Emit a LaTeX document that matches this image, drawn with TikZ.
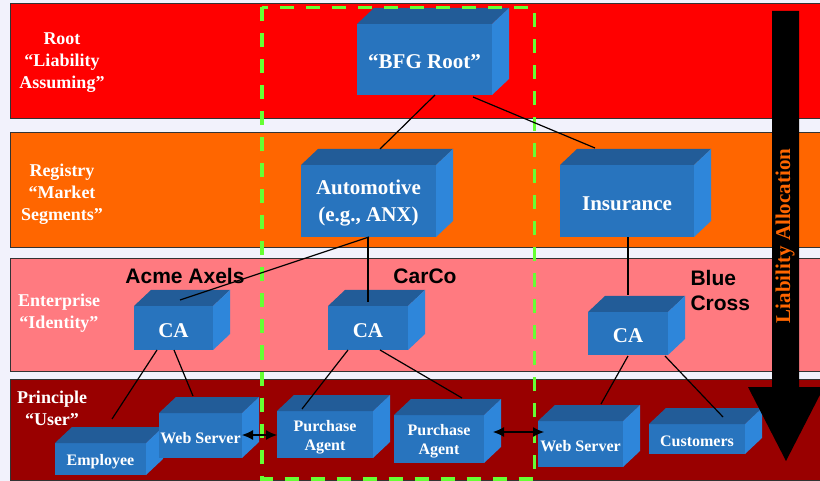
\documentclass[tikz,border=0pt]{standalone}
\usepackage{fontspec}
\setmainfont{Liberation Serif}
\newfontfamily\arialfont{Liberation Sans}
\usetikzlibrary{calc,arrows.meta}

\definecolor{pagebg}{RGB}{242,242,252}
\definecolor{bandroot}{RGB}{255,0,0}
\definecolor{bandreg}{RGB}{255,102,0}
\definecolor{bandent}{RGB}{255,122,128}
\definecolor{banduser}{RGB}{153,0,0}
\definecolor{cubefront}{RGB}{40,116,190}
\definecolor{cubetop}{RGB}{34,92,152}
\definecolor{cubeside}{RGB}{46,134,218}
\definecolor{scopegreen}{RGB}{102,255,51}
\definecolor{allocorange}{RGB}{255,102,0}

\tikzset{
  band/.style={draw=black!80, line width=0.8pt},
  tierlabel/.style={text=white, align=center, font=\fontsize{18}{22}\selectfont\bfseries},
  orglabel/.style={text=black, font=\arialfont\fontsize{21}{25}\selectfont\bfseries},
  cubeface/.style={fill=cubefront, inner sep=0pt, outer sep=0pt},
  cubetext/.style={text=white, align=center, inner sep=0pt},
  bigtext/.style={font=\fontsize{21}{27}\selectfont\bfseries},
  smalltext/.style={font=\fontsize{16}{19}\selectfont\bfseries},
  link/.style={draw=black, line width=1.2pt},
  dbl/.style={draw=black, line width=1.2pt, {Latex[length=11pt,width=10pt]}-{Latex[length=11pt,width=10pt]}},
}

% 3-D block: name, x1, y1, x2, y2 of the front face, text style, text
\newcommand\blockcube[7]{%
  \node[cubeface, anchor=north west, minimum width={(#4-#2)*1pt}, minimum height={(#5-#3)*1pt}]
    (#1) at (#2,#3) {};
  \fill[cubetop] (#1.north west) -- ++(17,-16) -- ([shift={(17,-16)}]#1.north east) -- (#1.north east) -- cycle;
  \fill[cubeside] (#1.north east) -- ++(17,-16) -- ([shift={(17,-16)}]#1.south east) -- (#1.south east) -- cycle;
  \node[cubetext, #6] (#1-text) at ($(#1.center)+(0,2.5)$) {#7};
}

\begin{document}
\begin{tikzpicture}[x=1pt,y=-1pt]
  \useasboundingbox (0,0) rectangle (820,481);
  \fill[pagebg] (0,0) rectangle (820,481);

  \begin{scope}
    \clip (0,0) rectangle (820,481);
    % tiers
    \filldraw[band, fill=bandroot] (10,3.5) rectangle (830,118);
    \filldraw[band, fill=bandreg] (10,132) rectangle (830,247);
    \filldraw[band, fill=bandent] (10,258) rectangle (830,371);
    \filldraw[band, fill=banduser] (10,379) rectangle (830,480);

    % tier names
    \node[tierlabel] (lroot) at (62,63) {Root\\“Liability\\Assuming”};
    \node[tierlabel] (lreg) at (62,194) {Registry\\“Market\\Segments”};
    \node[tierlabel] (lent) at (59,313.5) {Enterprise\\“Identity”};
    \node[tierlabel] (luser) at (52,408.5) {Principle\\“User”};

    % organisations
    \node[orglabel] (acme) at (185,276) {Acme Axels};
    \node[orglabel] (carco) at (425,276) {CarCo};
    \node[orglabel, align=left, anchor=west] (bluecross) at (687,290) {Blue\\Cross};

    % blocks
    \blockcube{root}{357}{24}{492}{95}{bigtext}{“BFG Root”}
    \blockcube{auto}{301}{165}{436}{237}{bigtext}{Automotive\\(e.g., ANX)}
    \blockcube{ins}{560}{165}{694}{237}{bigtext}{Insurance}
    \blockcube{caA}{134}{306}{213}{350}{bigtext}{CA}
    \blockcube{caC}{328}{306}{408}{350}{bigtext}{CA}
    \blockcube{caB}{588}{312}{668}{355}{bigtext}{CA}
    \blockcube{emp}{55}{443}{146}{475}{smalltext}{Employee}
    \blockcube{wsA}{159}{413}{242}{458}{smalltext}{Web Server}
    \blockcube{pa1}{277}{411}{373}{458}{smalltext}{Purchase\\Agent}
    \blockcube{pa2}{394}{415}{484}{463}{smalltext}{Purchase\\Agent}
    \blockcube{wsB}{538}{421}{623}{467}{smalltext}{Web Server}
    \blockcube{cust}{649}{424}{745}{454}{smalltext}{Customers}

    % CarCo scope
    \draw[scopegreen, line width=3.2pt, dash pattern=on 14pt off 12pt] (262,7.5) rectangle (534.5,479);

    % hierarchy links
    \draw[link] ($(root.south west)+(78,0)$) -- ($(auto.north west)+(79,-16)$);
    \draw[link] ($(root.south west)+(116,2)$) -- ($(ins.north west)+(35,-17)$);
    \draw[link] ($(auto.south west)+(68,0)$) -- ($(caA.north west)+(46,-6)$);
    \draw[link] ($(auto.south west)+(67,0)$) -- ($(caC.north west)+(40,-4)$);
    \draw[link] ($(ins.south west)+(68,0)$) -- ($(caB.north west)+(40,-17)$);
    \draw[link] ($(caA.south west)+(23,0)$) -- ($(emp.north west)+(57,-24)$);
    \draw[link] ($(caA.south west)+(40,0)$) -- ($(wsA.north west)+(34,-17)$);
    \draw[link] ($(caC.south west)+(20,0)$) -- ($(pa1.north west)+(25,-2)$);
    \draw[link] ($(caC.south west)+(52,0)$) -- ($(pa2.north west)+(68,-17)$);
    \draw[link] ($(caB.south west)+(40,1)$) -- ($(wsB.north west)+(63,-17)$);
    \draw[link] ($(caB.south west)+(77,1)$) -- ($(cust.north west)+(74,-7)$);

    % peer links
    \draw[dbl] ($(wsA.east)+(0,-0.5)$) -- ($(pa1.west)+(0,0.5)$);
    \draw[dbl] ($(pa2.east)+(9,-7)$) -- ($(wsB.west)+(6,-12)$);

    % liability arrow
    \fill[black] (772,11) -- (799,11) -- (799,387) -- (824,387) -- (786,461) -- (748,387) -- (772,387) -- cycle;
    \node[rotate=90, text=allocorange, font=\fontsize{21}{25}\selectfont\bfseries] (alloc) at (785,236) {Liability Allocation};
  \end{scope}
\end{tikzpicture}
\end{document}
